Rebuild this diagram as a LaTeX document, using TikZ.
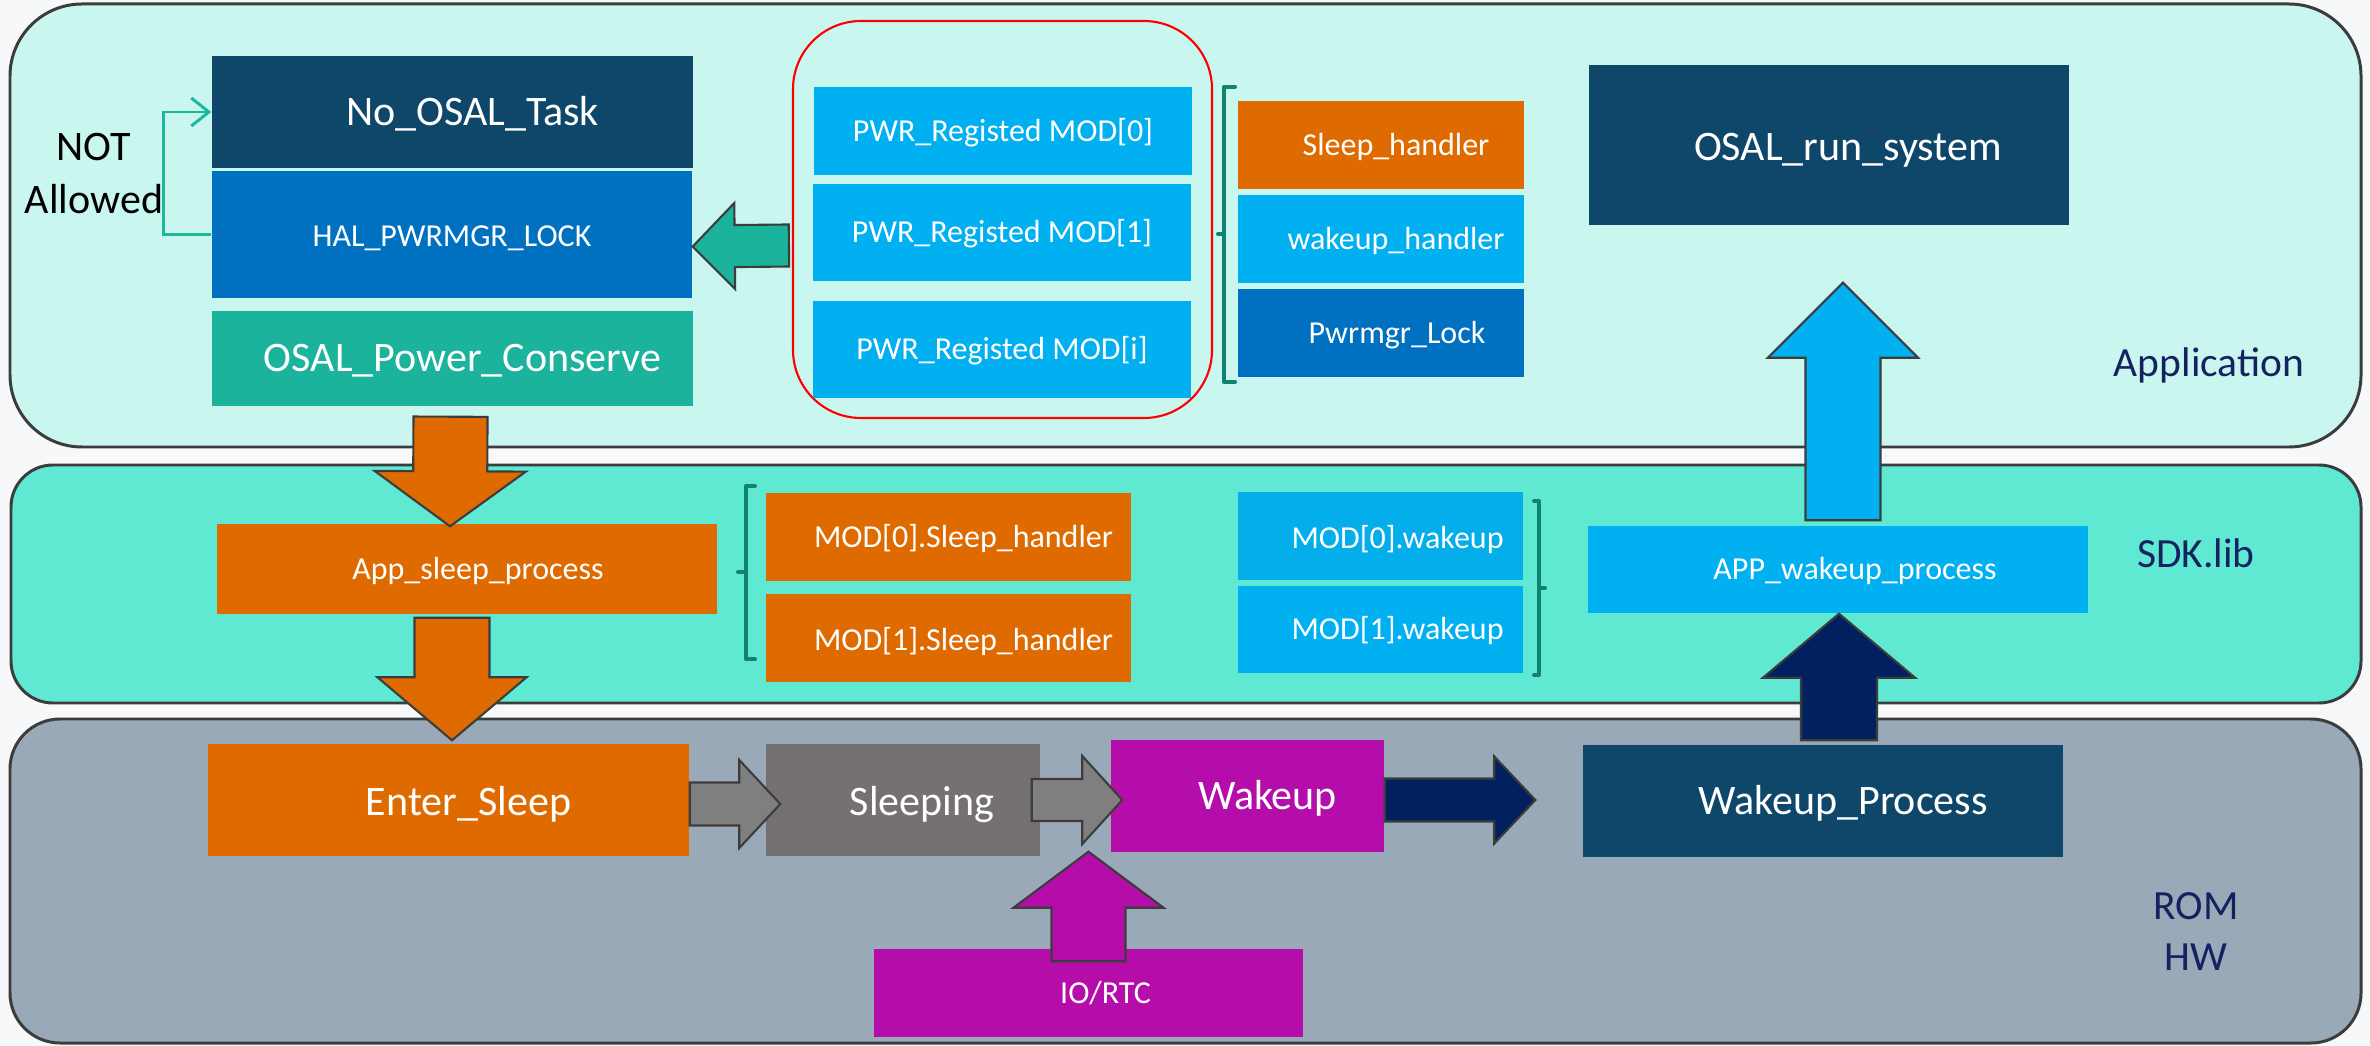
\documentclass[tikz,border=0pt]{standalone}
\usepackage{fontspec}
\setmainfont{Carlito}
\usetikzlibrary{calc,fit,arrows.meta}

\definecolor{bgc}{HTML}{F6F8FA}
\definecolor{appc}{HTML}{C9F6EF}
\definecolor{sdkc}{HTML}{5FE9D3}
\definecolor{romc}{HTML}{99A9B7}
\definecolor{edge}{HTML}{3C3C3C}
\definecolor{dkblue}{HTML}{0E4769}
\definecolor{halblue}{HTML}{0070C0}
\definecolor{tealc}{HTML}{1BB39B}
\definecolor{cyanc}{HTML}{00B0F0}
\definecolor{cyand}{HTML}{04AEEA}
\definecolor{orangec}{HTML}{DF6A00}
\definecolor{grayc}{HTML}{767171}
\definecolor{arrgray}{HTML}{7F7F7F}
\definecolor{magc}{HTML}{B40DAA}
\definecolor{navyc}{HTML}{002060}
\definecolor{brk}{HTML}{118270}
\definecolor{lblc}{HTML}{14235F}
\definecolor{loopc}{HTML}{1DB79B}

\tikzset{
  panel/.style={draw=edge, line width=0.85pt, inner sep=0pt},
  blk/.style={inner sep=0pt, draw=none},
  tb/.style={text=white, font=\fontsize{11.95}{14}\selectfont, inner sep=0pt, text height=7.55pt, text depth=0pt},
  ts/.style={text=white, font=\fontsize{9.1}{11}\selectfont, inner sep=0pt, text height=5.75pt, text depth=0pt},
  tp/.style={text=white, font=\fontsize{9.1}{11}\selectfont, inner sep=0pt, text height=5.75pt, text depth=0pt},
  layer/.style={text=lblc, font=\fontsize{11.8}{14}\selectfont, inner sep=0pt, text height=7.45pt, text depth=0pt},
  barrow/.style={draw=edge, line width=0.6pt, line join=miter},
  brace/.style={draw=brk, line width=1.15pt, line cap=round, line join=round},
  loopline/.style={draw=loopc, line width=0.85pt, -{Straight Barb[length=5pt,width=8pt]}},
}

% block arrow: #1 fill, #2 tail, #3 tip, #4 shaft half width, #5 head half width, #6 head length
\newcommand{\blockarrow}[6]{%
  \coordinate (ba-h) at ($#3!#6!#2$);
  \draw[barrow, fill=#1] ($#2!#4!90:#3$) -- ($(ba-h)!#4!-90:#2$) -- ($(ba-h)!#5!-90:#2$)
    -- #3 -- ($(ba-h)!#5!90:#2$) -- ($(ba-h)!#4!90:#2$) -- ($#2!#4!-90:#3$) -- cycle;
}

\begin{document}
\begin{tikzpicture}[x=0.01cm, y=-0.01cm]
\useasboundingbox (0,0) rectangle (2370,1046);
\fill[bgc] (0,0) rectangle (2370,1046);

% layers
\node[panel, fill=appc, rounded corners=0.72cm, fit={(10,4) (2361,447)}] (app) {};
\node[panel, fill=sdkc, rounded corners=0.42cm, fit={(11,465) (2361,703)}] (sdk) {};
\node[panel, fill=romc, rounded corners=0.5cm, fit={(10,719) (2361,1043)}] (rom) {};

\node[layer] (lapp) at (2209,363) {Application};
\node[layer] (lsdk) at (2196,554) {SDK.lib};
\node[layer] (lrom) at (2196,906) {ROM};
\node[layer] (lhw) at (2196,957) {HW};

% application layer
\node[blk, fill=dkblue, fit={(212,56) (693,168)}, label={[tb, xshift=0.2cm]center:{No\_OSAL\_Task}}] (nosal) {};
\node[blk, fill=halblue, fit={(212,171) (692,298)}, label={[ts, yshift=-0.015cm]center:{HAL\_PWRMGR\_LOCK}}] (hal) {};
\node[blk, fill=tealc, fit={(212,311) (693,406)}, label={[tb, xshift=0.1cm]center:{OSAL\_Power\_Conserve}}] (opc) {};

\node[draw=red, line width=0.6pt, inner sep=0pt, rounded corners=0.68cm, fit={(793,21) (1212,418)}] (pwrg) {};
\node[blk, fill=cyanc, fit={(814,87) (1192,175)}, label={[tp]center:{PWR\_Registed MOD[0]}}] (pwr0) {};
\node[blk, fill=cyanc, fit={(813,184) (1191,281)}, label={[tp]center:{PWR\_Registed MOD[1]}}] (pwr1) {};
\node[blk, fill=cyanc, fit={(813,301) (1191,398)}, label={[tp]center:{PWR\_Registed MOD[i]}}] (pwri) {};

\node[blk, fill=orangec, fit={(1238,101) (1524,189)}, label={[ts, xshift=0.15cm]center:{Sleep\_handler}}] (sh) {};
\node[blk, fill=cyanc, fit={(1238,195) (1524,283)}, label={[ts, xshift=0.15cm]center:{wakeup\_handler}}] (wh) {};
\node[blk, fill=halblue, fit={(1238,289) (1524,377)}, label={[ts, xshift=0.16cm]center:{Pwrmgr\_Lock}}] (pl) {};

\node[blk, fill=dkblue, fit={(1589,65) (2069,225)}, label={[tb, xshift=0.19cm, yshift=-0.02cm]center:{OSAL\_run\_system}}] (ors) {};

\node[inner sep=0pt, font=\fontsize{11.95}{14}\selectfont, text height=7.55pt, text depth=0pt] (tnot) at (94,147) {NOT};
\node[inner sep=0pt, font=\fontsize{11.95}{14}\selectfont, text height=7.55pt, text depth=0pt] (tall) at (94,200) {Allowed};

% SDK layer
\node[blk, fill=orangec, fit={(217,524) (717,614)}, label={[ts, xshift=0.11cm]center:{App\_sleep\_process}}] (asp) {};
\node[blk, fill=orangec, fit={(766,493) (1131,581)}, label={[ts, xshift=0.15cm]center:{MOD[0].Sleep\_handler}}] (m0s) {};
\node[blk, fill=orangec, fit={(766,594) (1131,682)}, label={[ts, xshift=0.15cm, yshift=-0.02cm]center:{MOD[1].Sleep\_handler}}] (m1s) {};
\node[blk, fill=cyand, fit={(1238,492) (1523,580)}, label={[ts, xshift=0.17cm, yshift=-0.02cm]center:{MOD[0].wakeup}}] (m0w) {};
\node[blk, fill=cyanc, fit={(1238,586) (1523,673)}, label={[ts, xshift=0.17cm]center:{MOD[1].wakeup}}] (m1w) {};
\node[blk, fill=cyanc, fit={(1588,526) (2088,613)}, label={[ts, xshift=0.17cm]center:{APP\_wakeup\_process}}] (awp) {};

% ROM / HW layer
\node[blk, fill=orangec, fit={(208,744) (689,856)}, label={[tb, xshift=0.2cm, yshift=-0.02cm]center:{Enter\_Sleep}}] (es) {};
\node[blk, fill=grayc, fit={(766,744) (1040,856)}, label={[tb, xshift=0.19cm, yshift=-0.02cm]center:{Sleeping}}] (sl) {};
\node[blk, fill=magc, fit={(1111,740) (1384,852)}, label={[tb, xshift=0.2cm]center:{Wakeup}}] (wk) {};
\node[blk, fill=dkblue, fit={(1583,745) (2063,857)}, label={[tb, xshift=0.2cm]center:{Wakeup\_Process}}] (wp) {};
\node[blk, fill=magc, fit={(874,949) (1303,1037)}, label={[ts, xshift=0.17cm]center:{IO/RTC}}] (io) {};

% lock loop
\draw[loopline] (hal.west) -- ++(-48,0) |- (nosal.west);

% braces
\draw[brace] (1235,87) -- (1224,87) -- (1224,382) -- (1235,382) (1224,234) -- (1218,234);
\draw[brace] (755,486) -- (746,486) -- (746,659) -- (755,659) (746,572) -- (738,572);
\draw[brace] (1534,501) -- (1539,501) -- (1539,675) -- (1534,675) (1539,588) -- (1545,588);

% arrow ends
\coordinate (a1s) at ($(pwrg.west)+(-3,26)$);
\coordinate (a1t) at ($(hal.east)+(0,12)$);
\coordinate (a2s) at ($(opc.south)+(-2,10)$);
\coordinate (a2t) at ($(asp.north)+(-17,3)$);
\coordinate (a3s) at ($(asp.south)+(-15,3)$);
\coordinate (a3t) at ($(es.north)+(3.5,-3)$);
\coordinate (a4s) at ($(es.east)+(0,4)$);
\coordinate (a4t) at ($(sl.west)+(15,4)$);
\coordinate (a5s) at ($(sl.east)+(-9,0)$);
\coordinate (a5t) at ($(wk.west)+(12,4)$);
\coordinate (a6s) at ($(wk.east)+(0,4)$);
\coordinate (a6t) at ($(wp.west)+(-47,-1)$);
\coordinate (a7s) at ($(io.north)+(0,13)$);
\coordinate (a7t) at ($(io.north |- wk.south)+(0,-1)$);
\coordinate (a8s) at ($(wp.north)+(16,-4)$);
\coordinate (a8t) at ($(awp.south)+(1,0)$);
\coordinate (a9s) at ($(awp.north)+(5,-5)$);
\coordinate (a9t) at ($(ors.south)+(14,57)$);

% block arrows
\blockarrow{tealc}{(a1s)}{(a1t)}{0.21cm}{0.43cm}{0.42cm}
\blockarrow{orangec}{(a2s)}{(a2t)}{0.37cm}{0.755cm}{0.55cm}
\blockarrow{orangec}{(a3s)}{(a3t)}{0.375cm}{0.745cm}{0.63cm}
\blockarrow{arrgray}{(a4s)}{(a4t)}{0.215cm}{0.44cm}{0.41cm}
\blockarrow{arrgray}{(a5s)}{(a5t)}{0.21cm}{0.44cm}{0.40cm}
\blockarrow{navyc}{(a6s)}{(a6t)}{0.215cm}{0.435cm}{0.41cm}
\blockarrow{magc}{(a7s)}{(a7t)}{0.37cm}{0.75cm}{0.56cm}
\blockarrow{navyc}{(a8s)}{(a8t)}{0.38cm}{0.76cm}{0.64cm}
\blockarrow{cyanc}{(a9s)}{(a9t)}{0.375cm}{0.75cm}{0.75cm}
\end{tikzpicture}
\end{document}
